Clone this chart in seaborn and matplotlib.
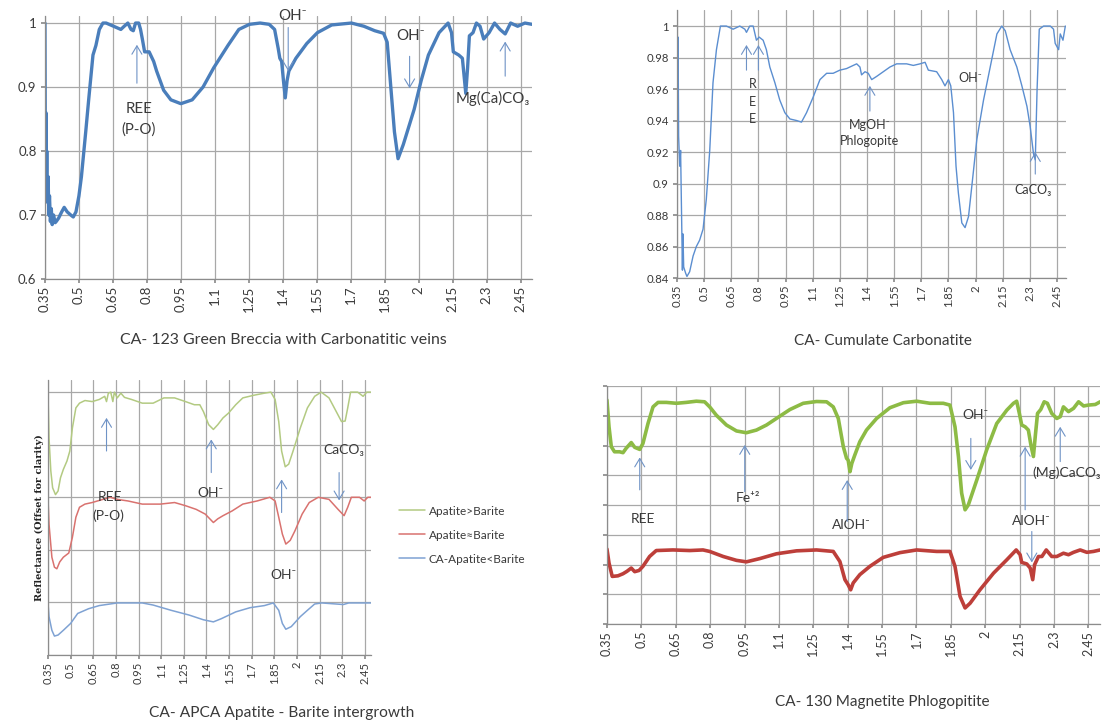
import pandas as pd
import matplotlib
matplotlib.use("Agg")
import matplotlib.pyplot as plt
import seaborn as sns

# Spectra (wavelength in micrometres)

# CA-123 Green Breccia with Carbonatitic veins
wl_123 = [0.35, 0.352, 0.354, 0.356, 0.358, 0.361, 0.364, 0.367, 0.370, 0.374,
          0.378, 0.382, 0.388, 0.395, 0.40, 0.41, 0.424, 0.435, 0.448, 0.464,
          0.475, 0.487, 0.50, 0.511, 0.53, 0.543, 0.562, 0.575, 0.59, 0.606,
          0.62, 0.653, 0.685, 0.70, 0.716, 0.73, 0.74, 0.75, 0.764, 0.772,
          0.78, 0.79, 0.81, 0.83, 0.843, 0.874, 0.906, 0.95, 1.0, 1.048,
          1.095, 1.158, 1.206, 1.253, 1.30, 1.34, 1.364, 1.38, 1.387, 1.395,
          1.403, 1.411, 1.419, 1.427, 1.458, 1.506, 1.553, 1.616, 1.703, 1.758,
          1.806, 1.845, 1.861, 1.877, 1.893, 1.909, 1.932, 1.98, 2.011, 2.043,
          2.09, 2.13, 2.145, 2.153, 2.177, 2.193, 2.208, 2.216, 2.224, 2.24,
          2.255, 2.271, 2.287, 2.311, 2.335, 2.359, 2.382, 2.406, 2.437, 2.469,
          2.5]
refl_123 = [1.0, 0.76, 0.86, 0.75, 0.80, 0.72, 0.76, 0.70, 0.73, 0.69,
            0.71, 0.685, 0.70, 0.688, 0.69, 0.695, 0.705, 0.712, 0.705, 0.70,
            0.697, 0.705, 0.73, 0.76, 0.83, 0.88, 0.95, 0.965, 0.99, 1.0,
            1.0, 0.995, 0.99, 0.995, 1.0, 0.99, 0.988, 1.0, 1.0, 0.99,
            0.975, 0.955, 0.955, 0.94, 0.925, 0.895, 0.88, 0.874, 0.88, 0.90,
            0.93, 0.965, 0.99, 0.998, 1.0, 0.998, 0.99, 0.96, 0.945, 0.94,
            0.91, 0.883, 0.91, 0.925, 0.945, 0.968, 0.985, 0.997, 1.0, 0.995,
            0.988, 0.984, 0.97, 0.90, 0.83, 0.788, 0.81, 0.865, 0.91, 0.95,
            0.985, 1.0, 0.985, 0.955, 0.95, 0.945, 0.89, 0.93, 0.98, 0.985,
            1.0, 0.995, 0.975, 0.985, 1.0, 0.99, 0.983, 1.0, 0.995, 1.0,
            0.998]

# CA- Cumulate Carbonatite
wl_cum = [0.35, 0.353, 0.356, 0.359, 0.365, 0.37, 0.374, 0.38, 0.383, 0.387,
          0.398, 0.405, 0.42, 0.439, 0.457, 0.475, 0.494, 0.512, 0.531, 0.549,
          0.568, 0.59, 0.623, 0.66, 0.697, 0.725, 0.734, 0.752, 0.771, 0.789,
          0.804, 0.826, 0.844, 0.863, 0.891, 0.918, 0.946, 0.974, 1.011, 1.038,
          1.066, 1.103, 1.14, 1.177, 1.213, 1.25, 1.287, 1.324, 1.343, 1.361,
          1.37, 1.389, 1.407, 1.426, 1.453, 1.49, 1.527, 1.564, 1.619, 1.656,
          1.693, 1.721, 1.739, 1.785, 1.813, 1.831, 1.85, 1.863, 1.878, 1.892,
          1.905, 1.924, 1.942, 1.961, 1.979, 2.007, 2.044, 2.081, 2.118, 2.145,
          2.164, 2.191, 2.228, 2.256, 2.284, 2.302, 2.32, 2.33, 2.34, 2.352,
          2.376, 2.413, 2.431, 2.44, 2.459, 2.468, 2.483, 2.496]
refl_cum = [1.0, 0.932, 0.993, 0.93, 0.911, 0.921, 0.89, 0.845, 0.868, 0.847,
            0.843, 0.841, 0.844, 0.854, 0.86, 0.864, 0.871, 0.89, 0.921, 0.964,
            0.985, 1.0, 1.0, 0.998, 1.0, 0.998, 0.996, 1.0, 1.0, 0.991,
            0.993, 0.991, 0.985, 0.974, 0.964, 0.953, 0.945, 0.941, 0.94, 0.939,
            0.945, 0.955, 0.966, 0.97, 0.97, 0.972, 0.973, 0.975, 0.976, 0.974,
            0.969, 0.971, 0.97, 0.966, 0.968, 0.971, 0.974, 0.976, 0.976, 0.975,
            0.976, 0.977, 0.972, 0.971, 0.966, 0.962, 0.966, 0.962, 0.945, 0.911,
            0.894, 0.875, 0.872, 0.879, 0.898, 0.928, 0.953, 0.974, 0.995, 1.0,
            0.997, 0.985, 0.974, 0.962, 0.949, 0.936, 0.919, 0.915, 0.96, 0.998,
            1.0, 1.0, 0.998, 0.989, 0.985, 0.995, 0.991, 1.0]

# CA- APCA Apatite - Barite intergrowth (offset spectra)
wl_ap_gt = [0.35, 0.357, 0.369, 0.381, 0.40, 0.417, 0.433, 0.452, 0.476, 0.495,
            0.512, 0.535, 0.559, 0.595, 0.643, 0.69, 0.726, 0.738, 0.75, 0.766,
            0.78, 0.79, 0.809, 0.833, 0.857, 0.904, 0.975, 1.047, 1.118, 1.189,
            1.261, 1.32, 1.356, 1.38, 1.415, 1.446, 1.475, 1.51, 1.546, 1.594,
            1.641, 1.713, 1.784, 1.827, 1.855, 1.879, 1.898, 1.922, 1.945, 1.974,
            2.022, 2.069, 2.117, 2.16, 2.212, 2.26, 2.295, 2.319, 2.336, 2.355,
            2.402, 2.438, 2.462, 2.49]
refl_ap_gt = [5.0, 4.13, 3.5, 3.18, 3.05, 3.12, 3.37, 3.53, 3.69, 3.88,
              4.32, 4.7, 4.79, 4.84, 4.82, 4.86, 4.92, 4.82, 4.98, 5.0,
              4.82, 5.0, 4.89, 4.98, 4.9, 4.86, 4.79, 4.79, 4.89, 4.89,
              4.82, 4.76, 4.76, 4.63, 4.38, 4.29, 4.38, 4.51, 4.6, 4.76,
              4.89, 4.94, 4.98, 5.0, 4.86, 4.44, 3.88, 3.58, 3.63, 3.88,
              4.32, 4.7, 4.92, 5.0, 4.89, 4.63, 4.44, 4.45, 4.7, 5.0,
              5.0, 4.92, 5.0, 5.0]
wl_ap_eq = [0.35, 0.357, 0.376, 0.393, 0.409, 0.428, 0.452, 0.488, 0.512, 0.535,
            0.559, 0.595, 0.643, 0.714, 0.761, 0.809, 0.88, 0.975, 1.094, 1.189,
            1.261, 1.332, 1.392, 1.446, 1.475, 1.51, 1.57, 1.641, 1.736, 1.82,
            1.855, 1.879, 1.903, 1.926, 1.955, 1.986, 2.034, 2.081, 2.141, 2.212,
            2.272, 2.312, 2.336, 2.36, 2.414, 2.445, 2.469, 2.49]
refl_ap_eq = [3.0, 2.49, 1.86, 1.67, 1.64, 1.77, 1.86, 1.94, 2.24, 2.62,
              2.81, 2.87, 2.9, 2.96, 3.0, 2.96, 2.93, 2.87, 2.87, 2.9,
              2.84, 2.77, 2.68, 2.52, 2.59, 2.65, 2.74, 2.87, 2.93, 3.0,
              2.93, 2.62, 2.3, 2.11, 2.18, 2.36, 2.68, 2.9, 3.0, 2.96,
              2.77, 2.65, 2.81, 3.0, 3.0, 2.93, 3.0, 3.0]
wl_ap_lt = [0.35, 0.357, 0.376, 0.393, 0.417, 0.452, 0.5, 0.547, 0.619, 0.69,
            0.761, 0.809, 0.975, 1.047, 1.166, 1.285, 1.38, 1.446, 1.498, 1.594,
            1.689, 1.784, 1.843, 1.879, 1.903, 1.926, 1.962, 2.022, 2.069, 2.117,
            2.164, 2.307, 2.343, 2.49]
refl_ap_lt = [1.0, 0.73, 0.47, 0.36, 0.38, 0.47, 0.6, 0.79, 0.88, 0.94,
              0.97, 0.99, 0.99, 0.95, 0.85, 0.76, 0.67, 0.63, 0.69, 0.82,
              0.9, 0.94, 0.99, 0.85, 0.6, 0.49, 0.54, 0.73, 0.85, 0.97,
              0.99, 0.96, 0.99, 0.99]
apca_names = ["Apatite>Barite", "Apatite≈Barite", "CA-Apatite<Barite"]

# CA- 130 Magnetite Phlogopitite (offset spectra)
wl_130_g = [0.35, 0.359, 0.369, 0.383, 0.405, 0.42, 0.434, 0.456, 0.471, 0.493,
            0.507, 0.529, 0.551, 0.573, 0.609, 0.653, 0.696, 0.74, 0.776, 0.798,
            0.827, 0.871, 0.915, 0.958, 1.002, 1.046, 1.089, 1.148, 1.206, 1.264,
            1.308, 1.337, 1.359, 1.381, 1.395, 1.402, 1.41, 1.418, 1.431, 1.453,
            1.482, 1.526, 1.584, 1.643, 1.701, 1.759, 1.817, 1.846, 1.868, 1.883,
            1.897, 1.912, 1.926, 1.963, 2.006, 2.05, 2.094, 2.123, 2.137, 2.149,
            2.159, 2.174, 2.188, 2.199, 2.21, 2.218, 2.228, 2.242, 2.257, 2.271,
            2.29, 2.312, 2.327, 2.341, 2.363, 2.385, 2.407, 2.429, 2.45, 2.48,
            2.501]
refl_130_g = [7.53, 6.63, 5.96, 5.79, 5.79, 5.76, 5.91, 6.1, 5.94, 5.87,
              6.07, 6.74, 7.3, 7.45, 7.45, 7.42, 7.45, 7.49, 7.47, 7.3,
              7.02, 6.69, 6.49, 6.43, 6.52, 6.69, 6.91, 7.21, 7.42, 7.48,
              7.47, 7.3, 6.91, 5.96, 5.57, 5.51, 5.12, 5.4, 5.68, 6.13,
              6.52, 6.91, 7.27, 7.44, 7.49, 7.42, 7.42, 7.36, 6.63, 5.63,
              4.4, 3.84, 4.0, 4.84, 5.85, 6.74, 7.19, 7.42, 7.49, 7.07,
              6.69, 6.63, 6.52, 6.02, 5.63, 6.3, 7.08, 7.21, 7.47, 7.42,
              7.08, 6.91, 6.97, 7.3, 7.14, 7.25, 7.47, 7.33, 7.36, 7.38,
              7.47]
wl_130_r = [0.35, 0.359, 0.373, 0.398, 0.42, 0.437, 0.456, 0.471, 0.49, 0.507,
            0.536, 0.565, 0.638, 0.711, 0.769, 0.798, 0.857, 0.915, 0.958, 1.017,
            1.089, 1.177, 1.264, 1.337, 1.366, 1.388, 1.402, 1.413, 1.424, 1.453,
            1.497, 1.555, 1.628, 1.701, 1.788, 1.846, 1.868, 1.89, 1.912, 1.934,
            1.977, 2.036, 2.094, 2.135, 2.152, 2.159, 2.181, 2.196, 2.207, 2.215,
            2.232, 2.247, 2.266, 2.29, 2.312, 2.341, 2.363, 2.385, 2.414, 2.443,
            2.472, 2.501]
refl_130_r = [2.52, 2.05, 1.6, 1.62, 1.69, 1.77, 1.88, 1.76, 1.8, 1.94,
              2.27, 2.47, 2.49, 2.47, 2.49, 2.44, 2.27, 2.14, 2.09, 2.2,
              2.36, 2.46, 2.49, 2.44, 2.1, 1.49, 1.32, 1.15, 1.38, 1.66,
              1.94, 2.24, 2.4, 2.49, 2.44, 2.44, 1.94, 0.93, 0.54, 0.7,
              1.15, 1.71, 2.16, 2.49, 2.33, 2.07, 2.02, 1.88, 1.49, 1.99,
              2.27, 2.27, 2.49, 2.27, 2.27, 2.38, 2.33, 2.41, 2.49, 2.41,
              2.44, 2.49]

# Axis ticks
x_ticks = [0.35, 0.5, 0.65, 0.8, 0.95, 1.1, 1.25, 1.4, 1.55, 1.7, 1.85, 2.0,
           2.15, 2.3, 2.45]
x_tick_labels = ["0.35", "0.5", "0.65", "0.8", "0.95", "1.1", "1.25", "1.4",
                 "1.55", "1.7", "1.85", "2", "2.15", "2.3", "2.45"]
y_ticks_123 = [0.6, 0.7, 0.8, 0.9, 1.0]
y_labels_123 = ["0.6", "0.7", "0.8", "0.9", "1"]
y_ticks_cum = [0.84, 0.86, 0.88, 0.9, 0.92, 0.94, 0.96, 0.98, 1.0]
y_labels_cum = ["0.84", "0.86", "0.88", "0.9", "0.92", "0.94", "0.96", "0.98", "1"]

# Band labels (text, wavelength, y) and arrows (wavelength, tail y, head y)
notes_123 = [("REE", 0.764, 0.865), ("(P-O)", 0.764, 0.833), ("OH⁻", 1.443, 1.011),
             ("OH⁻", 1.964, 0.98), ("Mg(Ca)CO₃", 2.327, 0.882)]
arrows_123 = [(0.756, 0.906, 0.966), (1.424, 0.993, 0.925), (1.96, 0.948, 0.898),
              (2.382, 0.917, 0.971)]
notes_cum = [("R", 0.768, 0.963), ("E", 0.768, 0.952), ("E", 0.768, 0.941),
             ("MgOH⁻", 1.416, 0.937), ("Phlogopite", 1.416, 0.927),
             ("OH⁻", 1.97, 0.967), ("CaCO₃", 2.32, 0.896)]
arrows_cum = [(0.734, 0.972, 0.988), (0.80, 0.972, 0.988), (1.416, 0.946, 0.962),
              (2.33, 0.906, 0.92)]
notes_apca = [("REE", 0.76, 3.0), ("(P-O)", 0.75, 2.65), ("OH⁻", 1.427, 3.09),
              ("CaCO₃", 2.31, 3.89), ("OH⁻", 1.91, 1.53)]
arrows_apca = [(0.738, 3.88, 4.51), (1.432, 3.47, 4.1), (1.898, 2.71, 3.34),
               (2.279, 3.47, 2.94)]
notes_130 = [("REE", 0.507, 3.52), ("Fe⁺²", 0.966, 4.23), ("AlOH⁻", 1.417, 3.33),
             ("OH⁻", 1.956, 7.02), ("AlOH⁻", 2.203, 3.45), ("(Mg)CaCO₃", 2.355, 5.09)]
arrows_130 = [(0.493, 4.51, 5.6), (0.951, 4.45, 6.02), (1.398, 3.45, 4.84),
              (1.937, 6.24, 5.18), (2.174, 3.84, 5.96), (2.203, 3.11, 2.07),
              (2.327, 5.46, 6.63)]

GRID = "#a8a8a8"
AXIS = "#8c8c8c"
TEXT = "#3a3a3a"
ARROW = "#6f93c6"


def style_axes(ax, xmax, ylim, vgrid, tick_size, yticks, ylabels=None, ytick_len=3):
    ax.set_xlim(0.35, xmax)
    ax.set_ylim(*ylim)
    ax.set_xticks(x_ticks)
    ax.set_xticklabels(x_tick_labels, rotation=90)
    ax.set_yticks(yticks)
    if ylabels is None:
        ax.set_yticklabels([])
    else:
        ax.set_yticklabels(ylabels)
    ax.grid(axis="y", color=GRID, linewidth=0.9)
    ax.grid(axis="x", visible=vgrid, color=GRID, linewidth=0.9)
    ax.set_axisbelow(True)
    for side in ["top", "right"]:
        ax.spines[side].set_visible(False)
    for side in ["left", "bottom"]:
        ax.spines[side].set_color(AXIS)
        ax.spines[side].set_linewidth(0.9)
    ax.tick_params(axis="x", length=3, color=AXIS, labelsize=tick_size,
                   labelcolor=TEXT, pad=2, bottom=True)
    ax.tick_params(axis="y", length=ytick_len, color=AXIS, labelsize=tick_size,
                   labelcolor=TEXT, pad=3, left=True)
    ax.set_xlabel("")
    ax.set_ylabel("")


def add_notes(ax, notes, arrows, size):
    for txt, x, y in notes:
        ax.text(x, y, txt, ha="center", va="center", fontsize=size,
                color=TEXT, clip_on=False)
    for x, y0, y1 in arrows:
        ax.annotate("", xy=(x, y1), xytext=(x, y0),
                    arrowprops=dict(arrowstyle="->,head_length=0.5,head_width=0.3",
                                    color=ARROW, lw=0.8, mutation_scale=12,
                                    shrinkA=0, shrinkB=0))


sns.set_theme(style="white")
plt.rcParams["font.family"] = ["Lato", "DejaVu Sans"]

fig = plt.figure(figsize=(11.1, 7.24), dpi=100)
ax1 = fig.add_axes([0.0405, 0.6146, 0.4387, 0.3633])
ax2 = fig.add_axes([0.6099, 0.616, 0.3505, 0.3702])
ax3 = fig.add_axes([0.0432, 0.0953, 0.291, 0.3798])
ax4 = fig.add_axes([0.5468, 0.1381, 0.4441, 0.3287])

# Panel 1
df_123 = pd.DataFrame({"wavelength": wl_123, "reflectance": refl_123})
sns.lineplot(data=df_123, x="wavelength", y="reflectance", ax=ax1,
             color="#4a7ebb", linewidth=2.4, estimator=None, sort=False)
style_axes(ax1, 2.5, (0.6, 1.011), True, 9.5, y_ticks_123, y_labels_123)
add_notes(ax1, notes_123, arrows_123, 10.8)

# Panel 2
df_cum = pd.DataFrame({"wavelength": wl_cum, "reflectance": refl_cum})
sns.lineplot(data=df_cum, x="wavelength", y="reflectance", ax=ax2,
             color="#5b8ed0", linewidth=1.0, estimator=None, sort=False)
style_axes(ax2, 2.5, (0.84, 1.0102), False, 8.2, y_ticks_cum, y_labels_cum)
add_notes(ax2, notes_cum, arrows_cum, 9)

# Panel 3
df_apca = pd.concat([
    pd.DataFrame({"wavelength": wl_ap_gt, "reflectance": refl_ap_gt, "sample": apca_names[0]}),
    pd.DataFrame({"wavelength": wl_ap_eq, "reflectance": refl_ap_eq, "sample": apca_names[1]}),
    pd.DataFrame({"wavelength": wl_ap_lt, "reflectance": refl_ap_lt, "sample": apca_names[2]}),
])
sns.lineplot(data=df_apca, x="wavelength", y="reflectance", hue="sample",
             hue_order=apca_names, palette=["#b3ca82", "#d9726f", "#7fa2d3"],
             ax=ax3, linewidth=1.1, estimator=None, sort=False)
style_axes(ax3, 2.49, (0, 5.23), False, 8, [0, 1, 2, 3, 4, 5], None, ytick_len=0)
ax3.set_ylabel("Reflectance (Offset for clarity)", fontsize=7, fontweight="bold",
               family=["DejaVu Serif"], color="#222222")
ax3.yaxis.set_label_coords(-0.012, 0.5)
ax3.legend(loc="center left", bbox_to_anchor=(1.055, 0.436), frameon=False,
           fontsize=8.5, handlelength=2.2, labelspacing=1.1, handletextpad=0.3,
           labelcolor=TEXT)
add_notes(ax3, notes_apca, arrows_apca, 10)

# Panel 4
df_130 = pd.concat([
    pd.DataFrame({"wavelength": wl_130_g, "reflectance": refl_130_g, "sample": "green"}),
    pd.DataFrame({"wavelength": wl_130_r, "reflectance": refl_130_r, "sample": "red"}),
])
sns.lineplot(data=df_130, x="wavelength", y="reflectance", hue="sample",
             palette=["#8dbb45", "#bd3f3a"], ax=ax4, linewidth=2.6,
             estimator=None, sort=False, legend=False)
style_axes(ax4, 2.5, (0, 8), True, 9, list(range(9)), None)
add_notes(ax4, notes_130, arrows_130, 10)

# Captions under each chart
fig.text(0.255, 0.530, "CA- 123 Green Breccia with Carbonatitic veins",
         ha="center", va="center", fontsize=11.4, color=TEXT)
fig.text(0.795, 0.529, "CA- Cumulate Carbonatite",
         ha="center", va="center", fontsize=11, color=TEXT)
fig.text(0.254, 0.015, "CA- APCA Apatite - Barite intergrowth",
         ha="center", va="center", fontsize=11.2, color=TEXT)
fig.text(0.795, 0.030, "CA- 130 Magnetite Phlogopitite",
         ha="center", va="center", fontsize=11, color=TEXT)

plt.savefig("out.png", dpi=100)
